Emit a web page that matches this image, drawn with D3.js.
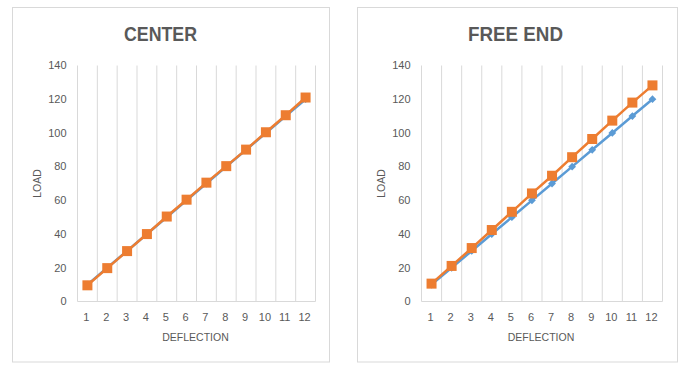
<!DOCTYPE html>
<html>
<head>
<meta charset="utf-8">
<script src="https://cdn.jsdelivr.net/npm/d3@7"></script>
<style>
  html, body { margin: 0; padding: 0; background: #fff; }
  svg { display: block; }
</style>
</head>
<body>
<svg id="chart" width="683" height="365"></svg>
<script>
const categories = ["1","2","3","4","5","6","7","8","9","10","11","12"];
const yTicks = [0, 20, 40, 60, 80, 100, 120, 140];
const centerBlue = [10, 20, 30, 40, 50, 60, 70, 80, 90, 100, 110, 120];
const centerOrange = [9.6, 19.8, 29.9, 40, 50.4, 60.4, 70.5, 80.3, 90.1, 100.4, 110.5, 121];
const freeBlue = [10, 20, 30, 40, 50, 60, 70, 80, 90, 100, 110, 120];
const freeOrange = [10.6, 21.1, 31.7, 42.4, 53.2, 64.1, 74.6, 85.6, 96.4, 107.3, 118, 128.2];

const BLUE = "#5B9BD5", ORANGE = "#ED7D31", GRID = "#D9D9D9", TEXT = "#595959";
const FONT = "Liberation Sans, Arial, sans-serif";
const svg = d3.select("#chart");

function drawChart(cfg) {
  const g = svg.append("g");
  g.append("rect")
    .attr("x", cfg.frame[0]).attr("y", cfg.frame[1])
    .attr("width", cfg.frame[2]).attr("height", cfg.frame[3])
    .attr("fill", "#fff").attr("stroke", GRID).attr("stroke-width", 1);

  const x = d3.scaleBand().domain(categories).range([cfg.x0, cfg.x1]).padding(0);
  const y = d3.scaleLinear().domain([0, 140]).range([cfg.y0, cfg.y1]);
  const cx = i => x(categories[i]) + x.bandwidth() / 2;

  const bounds = categories.map(c => x(c)).concat([x(categories[categories.length - 1]) + x.bandwidth()]);
  g.append("g").selectAll("line").data(bounds).join("line")
    .attr("x1", d => d).attr("x2", d => d)
    .attr("y1", y(140)).attr("y2", y(0))
    .attr("stroke", GRID).attr("stroke-width", 1);

  g.append("line")
    .attr("x1", cfg.x0).attr("x2", cfg.x1)
    .attr("y1", y(0)).attr("y2", y(0))
    .attr("stroke", GRID).attr("stroke-width", 1);

  g.append("g").selectAll("text").data(yTicks).join("text")
    .attr("x", cfg.x0 - 11).attr("y", d => y(d))
    .attr("dy", "0.35em").attr("text-anchor", "end")
    .attr("font-family", FONT).attr("font-size", 11)
    .attr("fill", TEXT).text(d => d);

  g.append("g").selectAll("text").data(categories).join("text")
    .attr("x", d => x(d) + x.bandwidth() / 2 - 1).attr("y", y(0) + 16)
    .attr("dy", "0.35em").attr("text-anchor", "middle")
    .attr("font-family", FONT).attr("font-size", 11)
    .attr("fill", TEXT).text(d => d);

  g.append("text")
    .attr("x", (cfg.x0 + cfg.x1) / 2 - 1).attr("y", y(0) + 36)
    .attr("dy", "0.35em").attr("text-anchor", "middle")
    .attr("font-family", FONT).attr("font-size", 10.5)
    .attr("fill", TEXT).text("DEFLECTION");
  g.append("text")
    .attr("transform", `translate(${cfg.loadX},${(y(0) + y(140)) / 2}) rotate(-90)`)
    .attr("dy", "0.35em").attr("text-anchor", "middle")
    .attr("font-family", FONT).attr("font-size", 10.5)
    .attr("fill", TEXT).text("LOAD");

  g.append("text")
    .attr("x", cfg.titleX).attr("y", 34)
    .attr("dy", "0.35em").attr("text-anchor", "middle")
    .attr("font-family", FONT)
    .attr("font-size", 20)
    .attr("font-weight", "bold")
    .attr("textLength", cfg.titleW).attr("lengthAdjust", "spacingAndGlyphs")
    .attr("fill", TEXT).text(cfg.title);

  const line = d3.line().x((d, i) => cx(i)).y(d => y(d));

  g.append("path").datum(cfg.blue).attr("d", line)
    .attr("fill", "none").attr("stroke", BLUE).attr("stroke-width", 2.5);
  g.append("g").selectAll("rect").data(cfg.blue).join("rect")
    .attr("x", -2.75).attr("y", -2.75).attr("width", 5.5).attr("height", 5.5)
    .attr("transform", (d, i) => `translate(${cx(i)},${y(d)}) rotate(45)`)
    .attr("fill", BLUE);

  g.append("path").datum(cfg.orange).attr("d", line)
    .attr("fill", "none").attr("stroke", ORANGE).attr("stroke-width", 2.5);
  g.append("g").selectAll("rect").data(cfg.orange).join("rect")
    .attr("x", (d, i) => cx(i) - 5)
    .attr("y", d => y(d) - 5)
    .attr("width", 10).attr("height", 10)
    .attr("fill", ORANGE);
}

drawChart({
  title: "CENTER", titleX: 160.5, titleW: 73,
  frame: [12.5, 7.5, 317, 354.5],
  x0: 77.5, x1: 315.5, y0: 301.5, y1: 65.5, loadX: 37,
  blue: centerBlue, orange: centerOrange
});
drawChart({
  title: "FREE END", titleX: 515.5, titleW: 95,
  frame: [357.5, 7.5, 320, 354.5],
  x0: 421.5, x1: 662.5, y0: 301.5, y1: 65.5, loadX: 381,
  blue: freeBlue, orange: freeOrange
});
</script>
</body>
</html>
